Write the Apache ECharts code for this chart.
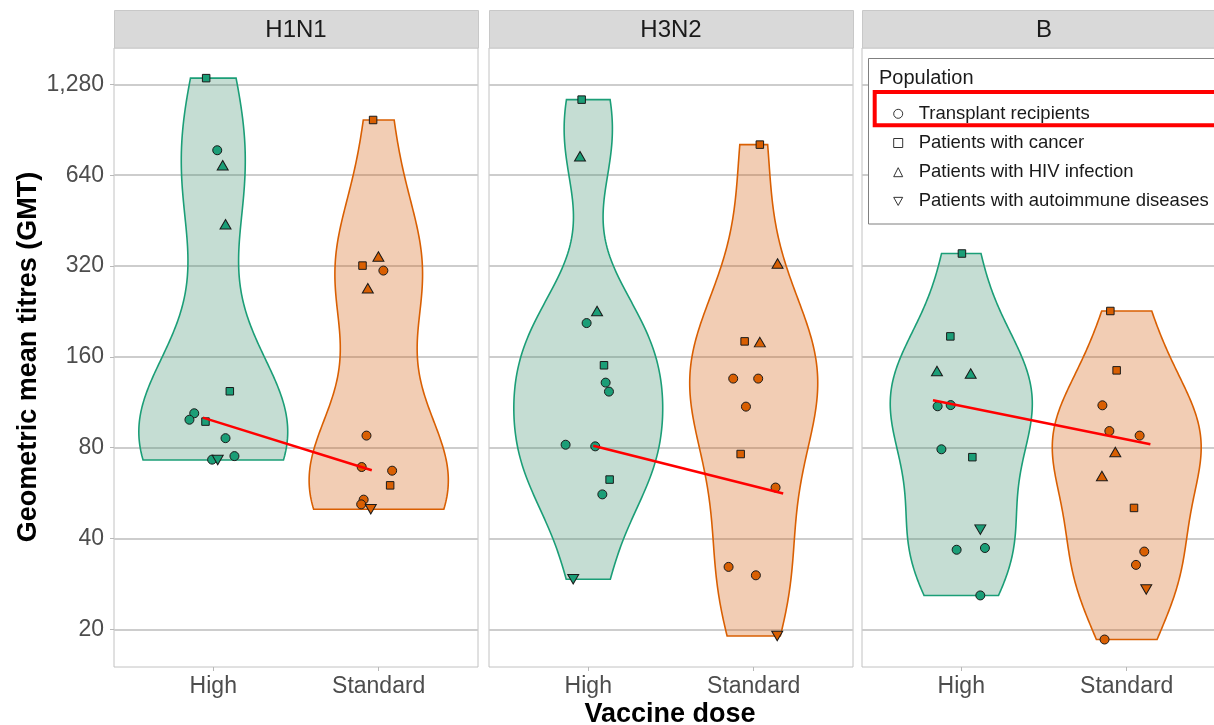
<!DOCTYPE html>
<html>
<head>
<meta charset="utf-8">
<script src="https://cdn.jsdelivr.net/npm/echarts@6/dist/echarts.min.js"></script>
<style>
  html, body { margin: 0; padding: 0; background: #ffffff; }
  #chart { width: 1214px; height: 725px; }
</style>
</head>
<body>
<div id="chart"></div>
<script>
// ---- data ----
const strains = ['H1N1', 'H3N2', 'B'];
const doses = ['High', 'Standard'];
const populations = ['Transplant recipients', 'Patients with cancer', 'Patients with HIV infection', 'Patients with autoimmune diseases'];
const yTicks = [20, 40, 80, 160, 320, 640, 1280];

// GMT per study, population code (index into populations) and horizontal jitter (in category units)
const h1n1HighGmt    = [1342, 774, 690, 440, 123, 104, 99, 97.6, 86, 73, 72.8, 75];
const h1n1HighPop    = [1, 0, 2, 2, 1, 0, 0, 1, 0, 0, 3, 0];
const h1n1HighJitter = [-0.043, 0.024, 0.057, 0.074, 0.100, -0.115, -0.144, -0.047, 0.074, -0.007, 0.027, 0.128];

const h1n1StdGmt     = [975, 344, 321, 309, 270, 87.7, 69, 67.1, 60, 53.8, 51.9, 50];
const h1n1StdPop     = [1, 2, 1, 0, 2, 0, 0, 0, 1, 0, 0, 3];
const h1n1StdJitter  = [-0.034, -0.002, -0.098, 0.028, -0.066, -0.074, -0.103, 0.081, 0.069, -0.091, -0.106, -0.048];

const h3n2HighGmt    = [1139, 739, 227, 207, 150, 131.4, 122.7, 81.8, 80.8, 62.7, 56, 29.3];
const h3n2HighPop    = [1, 2, 2, 0, 1, 0, 0, 0, 0, 1, 0, 3];
const h3n2HighJitter = [-0.040, -0.050, 0.053, -0.010, 0.095, 0.105, 0.125, -0.137, 0.042, 0.129, 0.085, -0.091];

const h3n2StdGmt     = [808, 326, 180, 179, 135.5, 135.5, 109.4, 76.2, 59, 32.2, 30.2, 19];
const h3n2StdPop     = [1, 2, 1, 2, 0, 0, 0, 1, 0, 0, 0, 3];
const h3n2StdJitter  = [0.037, 0.144, -0.055, 0.037, -0.124, 0.027, -0.047, -0.079, 0.132, -0.152, 0.013, 0.142];

const bHighGmt       = [352, 187, 143.6, 140.8, 109.7, 110.7, 79, 74.4, 42.8, 36.7, 37.2, 25.9];
const bHighPop       = [1, 1, 2, 2, 0, 0, 0, 1, 3, 0, 0, 0];
const bHighJitter    = [0.004, -0.066, -0.147, 0.057, -0.143, -0.064, -0.120, 0.067, 0.115, -0.028, 0.143, 0.115];

const bStdGmt        = [227, 144.3, 110.5, 90.8, 87.7, 77.4, 64.4, 50.5, 36.2, 32.7, 27.1, 18.5];
const bStdPop        = [1, 1, 0, 0, 0, 2, 2, 1, 0, 0, 3, 0];
const bStdJitter     = [-0.099, -0.061, -0.147, -0.105, 0.078, -0.069, -0.150, 0.044, 0.106, 0.056, 0.118, -0.134];

// highlighted transplant-recipient trend (high dose -> standard dose), per strain
const trendHighGmt   = [100.6, 81.2, 114.8];
const trendStdGmt    = [67.3, 56.4, 82.1];
const trendHighJitter = [-0.063, 0.030, -0.171];
const trendStdJitter  = [-0.042, 0.178, 0.143];

// ---- assemble ----
const groups = [
  [{ gmt: h1n1HighGmt, pop: h1n1HighPop, jit: h1n1HighJitter }, { gmt: h1n1StdGmt, pop: h1n1StdPop, jit: h1n1StdJitter }],
  [{ gmt: h3n2HighGmt, pop: h3n2HighPop, jit: h3n2HighJitter }, { gmt: h3n2StdGmt, pop: h3n2StdPop, jit: h3n2StdJitter }],
  [{ gmt: bHighGmt,    pop: bHighPop,    jit: bHighJitter },    { gmt: bStdGmt,    pop: bStdPop,    jit: bStdJitter }]
];

const FONT = "'Liberation Sans', Arial, Helvetica, sans-serif";
const doseColors = ['#1B9E77', '#D95F02'];
const violinFill = ['rgba(62,142,108,0.30)', 'rgba(212,88,8,0.30)'];
const popSymbols = ['circle', 'rect', 'triangle', 'triangle'];
const popSizes = [9, 7.5, [11, 9.5], [11, 9.5]];
const popRotate = [0, 0, 0, 180];

// titres are shown on a doubling scale: t = log2(GMT / 10) puts 20, 40, ... 1280 at 1..7
const tOf = v => Math.log2(v / 10);
const fmtTitre = t => Math.round(10 * Math.pow(2, t)).toLocaleString('en-US');

// Gaussian kernel density, Silverman's rule-of-thumb bandwidth
function bwNrd0(x) {
  const n = x.length;
  const s = x.slice().sort((a, b) => a - b);
  const mean = s.reduce((a, b) => a + b, 0) / n;
  const sd = Math.sqrt(s.reduce((a, b) => a + (b - mean) * (b - mean), 0) / (n - 1));
  const q = p => { const h = (n - 1) * p, lo = Math.floor(h); const hi = Math.min(lo + 1, n - 1); return s[lo] + (h - lo) * (s[hi] - s[lo]); };
  let lo = Math.min(sd, (q(0.75) - q(0.25)) / 1.34);
  if (!(lo > 0)) lo = sd || Math.abs(s[0]) || 1;
  return 0.9 * lo * Math.pow(n, -0.2);
}
function densityProfile(x) {
  const bw = bwNrd0(x);
  const mn = Math.min(...x), mx = Math.max(...x);
  const N = 160, ts = [], ds = [];
  for (let i = 0; i < N; i++) {
    const t = mn + (mx - mn) * i / (N - 1);
    let d = 0;
    for (const xi of x) { const z = (t - xi) / bw; d += Math.exp(-0.5 * z * z); }
    ts.push(t); ds.push(d / (x.length * bw * Math.sqrt(2 * Math.PI)));
  }
  return { ts, ds };
}
// violin profiles, widths scaled by the largest density within each panel
const violins = groups.map(panel => {
  const prof = panel.map(g => densityProfile(g.gmt.map(tOf)));
  const maxD = Math.max(...prof.map(p => Math.max(...p.ds)));
  return prof.map(p => ({ ts: p.ts, hw: p.ds.map(d => 0.45 * d / maxD) }));
});

const panelLefts = [114, 489, 862];
const panelW = 364, panelTop = 48, panelH = 619;
const yMin = 0.585, yMax = 7.40;

const grids = [], xAxes = [], yAxes = [], series = [], graphics = [];

strains.forEach((strain, p) => {
  grids.push({ left: panelLefts[p], top: panelTop, width: panelW, height: panelH,
    outerBoundsMode: 'none', containLabel: false,
    show: true, borderColor: '#C2C2C2', borderWidth: 1, backgroundColor: 'transparent' });
  xAxes.push({
    type: 'value', gridIndex: p, min: 0.4, max: 2.6,
    axisLine: { show: false }, splitLine: { show: false },
    axisTick: { show: true, length: 4, customValues: [1, 2], lineStyle: { color: '#B8B8B8', width: 1 } },
    axisLabel: { customValues: [1, 2], formatter: v => doses[Math.round(v) - 1],
      fontSize: 23, color: '#4D4D4D', fontFamily: FONT, margin: 8 }
  });
  yAxes.push({
    type: 'value', gridIndex: p, min: yMin, max: yMax,
    axisLine: { show: false },
    axisTick: { show: p === 0, length: 4, customValues: yTicks.map(tOf), lineStyle: { color: '#B8B8B8', width: 1 } },
    axisLabel: { show: p === 0, customValues: yTicks.map(tOf), formatter: fmtTitre,
      fontSize: 23, color: '#4D4D4D', fontFamily: FONT, margin: 10 },
    splitLine: { show: true, lineStyle: { color: '#CDCDCD', width: 2 } }
  });

  // violins
  series.push({
    type: 'custom', xAxisIndex: p, yAxisIndex: p, z: 2, silent: true,
    data: doses.map((d, i) => [i + 1, 4]),
    encode: { x: 0, y: 1 },
    renderItem: (params, api) => {
      const i = params.dataIndex;
      const v = violins[p][i], cx = i + 1;
      const pts = [];
      for (let k = 0; k < v.ts.length; k++) pts.push(api.coord([cx - v.hw[k], v.ts[k]]));
      for (let k = v.ts.length - 1; k >= 0; k--) pts.push(api.coord([cx + v.hw[k], v.ts[k]]));
      return { type: 'polygon', shape: { points: pts },
        style: { fill: violinFill[i], stroke: doseColors[i], lineWidth: 1.6 } };
    }
  });

  // study points, one series per population
  populations.forEach((pop, k) => {
    const data = [];
    groups[p].forEach((g, di) => {
      g.gmt.forEach((v, j) => {
        if (g.pop[j] === k) data.push({ value: [di + 1 + g.jit[j], tOf(v)], itemStyle: { color: doseColors[di] } });
      });
    });
    series.push({
      type: 'scatter', name: pop, xAxisIndex: p, yAxisIndex: p, z: 3,
      symbol: popSymbols[k], symbolSize: popSizes[k], symbolRotate: popRotate[k],
      itemStyle: { borderColor: '#1A1A1A', borderWidth: 1, opacity: 1 },
      data
    });
  });

  // red trend segment
  series.push({
    type: 'line', xAxisIndex: p, yAxisIndex: p, z: 5, silent: true,
    symbol: 'none', lineStyle: { color: '#FF0000', width: 2.5 },
    data: [[1 + trendHighJitter[p], tOf(trendHighGmt[p])], [2 + trendStdJitter[p], tOf(trendStdGmt[p])]]
  });

  // facet strip
  graphics.push({
    type: 'rect', z: 10,
    shape: { x: panelLefts[p] + 0.5, y: 10.5, width: panelW, height: panelTop - 10.5 },
    style: { fill: '#D9D9D9', stroke: '#C8C8C8', lineWidth: 1 }
  });
  graphics.push({
    type: 'text', z: 11, x: panelLefts[p] + panelW / 2, y: 30,
    style: { text: strain, fontSize: 24, fontFamily: FONT, fill: '#1A1A1A', align: 'center', verticalAlign: 'middle' }
  });
});

// axis titles
graphics.push({
  type: 'text', z: 11, x: 670, y: 715,
  style: { text: 'Vaccine dose', fontSize: 27, fontWeight: 'bold', fontFamily: FONT, fill: '#000000', align: 'center', verticalAlign: 'middle' }
});
graphics.push({
  type: 'text', z: 11, x: 29, y: 357, rotation: Math.PI / 2,
  style: { text: 'Geometric mean titres (GMT)', fontSize: 27, fontWeight: 'bold', fontFamily: FONT, fill: '#000000', align: 'center', verticalAlign: 'middle' }
});
// legend frame, title and highlight
graphics.push({
  type: 'rect', z: 50,
  shape: { x: 868.5, y: 58.5, width: 400, height: 165.5 },
  style: { fill: '#FFFFFF', stroke: '#7F7F7F', lineWidth: 1 }
});
graphics.push({
  type: 'text', z: 51, x: 879, y: 78,
  style: { text: 'Population', fontSize: 20, fontFamily: FONT, fill: '#1A1A1A', align: 'left', verticalAlign: 'middle' }
});
graphics.push({
  type: 'rect', z: 120,
  shape: { x: 874.7, y: 92, width: 360, height: 33.3 },
  style: { fill: 'none', stroke: '#FF0000', lineWidth: 4 }
});

const legendIcons = ['circle', 'rect', 'triangle', 'path://M0,0 L10,0 L5,9 Z'];
const option = {
  animation: false,
  backgroundColor: '#FFFFFF',
  grid: grids, xAxis: xAxes, yAxis: yAxes, series,
  graphic: graphics,
  legend: {
    z: 100, orient: 'vertical', left: 888.2, top: 98.8,
    itemWidth: 9, itemHeight: 9, itemGap: 9.2, selectedMode: false,
    textStyle: { fontSize: 18.5, lineHeight: 20, fontFamily: FONT, color: '#1A1A1A', padding: [0, 0, 0, 11] },
    data: populations.map((name, k) => ({
      name, icon: legendIcons[k],
      itemStyle: { color: 'rgba(0,0,0,0)', borderColor: '#333333', borderWidth: 1 }
    }))
  }
};

const chart = echarts.init(document.getElementById('chart'), null, { renderer: 'canvas' });
chart.setOption(option);
</script>
</body>
</html>
